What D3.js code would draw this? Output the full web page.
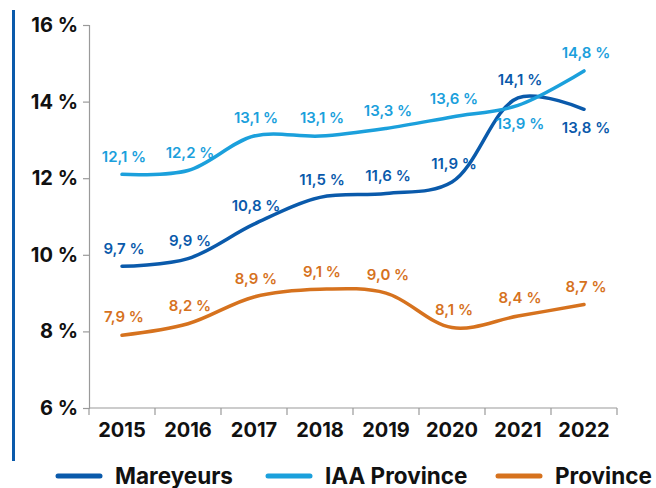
<!DOCTYPE html>
<html>
<head>
<meta charset="utf-8">
<script src="https://cdn.jsdelivr.net/npm/d3@7"></script>
<style>
  body { margin: 0; background: #fff; }
  text { font-family: Inter, "Open Sans", sans-serif; }
</style>
</head>
<body>
<script>
// years on the x axis
var years = ["2015", "2016", "2017", "2018", "2019", "2020", "2021", "2022"];
// series values (%)
var mareyeurs = [9.7, 9.9, 10.8, 11.5, 11.6, 11.9, 14.1, 13.8];
var iaaProvince = [12.1, 12.2, 13.1, 13.1, 13.3, 13.6, 13.9, 14.8];
var province = [7.9, 8.2, 8.9, 9.1, 9.0, 8.1, 8.4, 8.7];
// label above or below the point
var mareyeursPlace = ["up", "up", "up", "up", "up", "up", "up", "down"];
var iaaPlace = ["up", "up", "up", "up", "up", "up", "down", "up"];
var provincePlace = ["up", "up", "up", "up", "up", "up", "up", "up"];
var yTicks = [6, 8, 10, 12, 14, 16];

var width = 656, height = 488;

var series = [
  {name: "Mareyeurs", values: mareyeurs, place: mareyeursPlace, color: "#0a5aab"},
  {name: "IAA Province", values: iaaProvince, place: iaaPlace, color: "#1ba0dc"},
  {name: "Province", values: province, place: provincePlace, color: "#d6721e"}
];

var svg = d3.select("body")
  .append("svg")
  .attr("width", width)
  .attr("height", height);

// blue bar on the left
svg.append("rect")
  .attr("x", 12)
  .attr("y", 10)
  .attr("width", 3)
  .attr("height", 451)
  .attr("fill", "#0a5aab");

var x = d3.scaleBand()
  .domain(years)
  .range([89, 617]);

var y = d3.scaleLinear()
  .domain([6, 16])
  .range([408, 25]);

// y axis
var yAxis = svg.append("g")
  .attr("transform", "translate(89,0)")
  .call(d3.axisLeft(y).tickValues(yTicks).tickSize(6).tickPadding(5)
    .tickFormat(function(d){ return d + " %"; }));
yAxis.select(".domain").attr("stroke", "#9a9a9a").attr("stroke-width", 1.2);
yAxis.selectAll(".tick line").attr("stroke", "#9a9a9a").attr("stroke-width", 1.2);
yAxis.selectAll(".tick text")
  .attr("fill", "#111")
  .style("font-size", "20px")
  .style("font-weight", "700");

// x axis, ticks on band edges
var xAxis = svg.append("g")
  .attr("transform", "translate(0,408)");
xAxis.append("line")
  .attr("x1", 89).attr("x2", 617)
  .attr("stroke", "#9a9a9a").attr("stroke-width", 1.2);
xAxis.selectAll(".edge")
  .data(years.concat(["end"]))
  .enter()
  .append("line")
  .attr("x1", function(d, i){ return i < years.length ? x(d) : x.range()[1]; })
  .attr("x2", function(d, i){ return i < years.length ? x(d) : x.range()[1]; })
  .attr("y1", 0).attr("y2", 7)
  .attr("stroke", "#9a9a9a").attr("stroke-width", 1.2);
xAxis.selectAll(".year")
  .data(years)
  .enter()
  .append("text")
  .attr("x", function(d){ return x(d) + x.bandwidth() / 2; })
  .attr("y", 29)
  .attr("text-anchor", "middle")
  .attr("fill", "#111")
  .style("font-size", "20px")
  .style("font-weight", "700")
  .text(function(d){ return d; });

var cx = function(i){ return x(years[i]) + x.bandwidth() / 2; };

var line = d3.line()
  .x(function(d, i){ return cx(i); })
  .y(function(d){ return y(d); })
  .curve(d3.curveCatmullRom.alpha(0.5));

series.forEach(function(s){
  svg.append("path")
    .datum(s.values)
    .attr("d", line)
    .attr("fill", "none")
    .attr("stroke", s.color)
    .attr("stroke-width", 3.5)
    .attr("stroke-linecap", "round");
});

// value labels
series.forEach(function(s){
  svg.selectAll(".lbl-" + s.name.replace(" ", ""))
    .data(s.values)
    .enter()
    .append("text")
    .attr("x", function(d, i){ return cx(i) + 2; })
    .attr("y", function(d, i){ return y(d) + (s.place[i] == "up" ? -18 : 18); })
    .attr("dy", "0.35em")
    .attr("text-anchor", "middle")
    .attr("fill", s.color)
    .style("font-size", "15px")
    .style("font-weight", "600")
    .text(function(d){ return d.toFixed(1).replace(".", ",") + " %"; });
});

// legend
var legendX = [58, 268, 498];
var legend = svg.selectAll(".legend")
  .data(series)
  .enter()
  .append("g")
  .attr("transform", function(d, i){ return "translate(" + legendX[i] + ",476)"; });
legend.append("line")
  .attr("x1", 0).attr("x2", 42)
  .attr("stroke", function(d){ return d.color; })
  .attr("stroke-width", 5)
  .attr("stroke-linecap", "round");
legend.append("text")
  .attr("x", 57)
  .attr("y", 0)
  .attr("dy", "0.36em")
  .attr("fill", "#111")
  .style("font-size", "22.5px")
  .style("font-weight", "700")
  .text(function(d){ return d.name; });
</script>
</body>
</html>
